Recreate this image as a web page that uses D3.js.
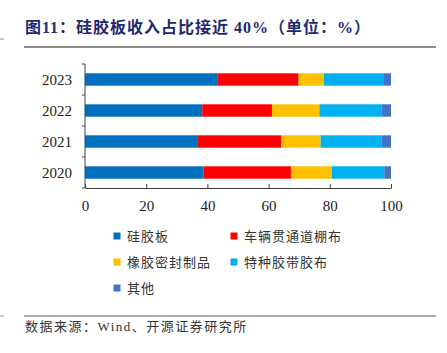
<!DOCTYPE html>
<html>
<head>
<meta charset="utf-8">
<script src="https://cdn.jsdelivr.net/npm/d3@7"></script>
<style>
  body { margin: 0; background: #fff; }
</style>
</head>
<body>
<div id="chart"></div>
<script>
let years = ["2023", "2022", "2021", "2020"];
let seriesNames = ["硅胶板", "车辆贯通道棚布", "橡胶密封制品", "特种胶带胶布", "其他"];
let seriesColors = ["#0070C0", "#FF0000", "#FFC000", "#00B0F0", "#4472C4"];
let siliconeBoard = [43.2, 38.3, 36.9, 38.7];
let vestibuleCloth = [26.6, 22.8, 27.2, 28.6];
let rubberSeals = [8.3, 15.5, 12.9, 13.4];
let specialTape = [19.6, 20.4, 20.0, 17.1];
let others = [2.3, 3.0, 3.0, 2.2];
let xTicks = [0, 20, 40, 60, 80, 100];

let tableData = years.map(function (y, i) {
    return {
        year: y,
        "硅胶板": siliconeBoard[i],
        "车辆贯通道棚布": vestibuleCloth[i],
        "橡胶密封制品": rubberSeals[i],
        "特种胶带胶布": specialTape[i],
        "其他": others[i]
    };
});

let W = 447, H = 353;
let svg = d3.select("#chart").append("svg")
    .attr("width", W).attr("height", H);

// title
svg.append("text")
    .attr("x", 25).attr("y", 33)
    .style("font-family", "'Liberation Serif', 'Noto Sans CJK SC', serif")
    .style("font-weight", "bold")
    .style("font-size", "16px")
    .style("letter-spacing", "1px")
    .attr("fill", "#1F2A6E")
    .text("图11：硅胶板收入占比接近 40%（单位：%）");
svg.append("line").attr("x1", 24).attr("x2", 436).attr("y1", 47).attr("y2", 47)
    .attr("stroke", "#8c8c8c").attr("stroke-width", 2);
svg.append("line").attr("x1", 0).attr("x2", 4).attr("y1", 39).attr("y2", 39)
    .attr("stroke", "#8c8c8c").attr("stroke-width", 1);

let plotLeft = 85, plotRight = 391, plotTop = 64, plotBottom = 188;

let x = d3.scaleLinear().domain([0, 100]).range([plotLeft, plotRight]);
let y = d3.scaleBand().domain(years).range([plotTop, plotBottom]).paddingInner(0.6).paddingOuter(0.3);

let stack = d3.stack().keys(seriesNames);
let stacked = stack(tableData);

svg.selectAll("g.layer")
    .data(stacked)
    .enter()
    .append("g")
    .attr("class", "layer")
    .attr("fill", function (d, i) { return seriesColors[i]; })
    .selectAll("rect")
    .data(function (d) { return d; })
    .enter()
    .append("rect")
    .attr("x", function (d) { return x(d[0]); })
    .attr("width", function (d) { return x(d[1]) - x(d[0]); })
    .attr("y", function (d) { return y(d.data.year); })
    .attr("height", y.bandwidth());

// x axis
let xAxis = svg.append("g")
    .attr("transform", "translate(0," + plotBottom + ")")
    .call(d3.axisBottom(x).tickValues(xTicks).tickSizeInner(-4).tickSizeOuter(0).tickPadding(12));
xAxis.select(".domain").attr("stroke", "#404040");
xAxis.selectAll(".tick line").attr("stroke", "#404040");
xAxis.selectAll("text")
    .style("font-family", "'Liberation Serif', serif")
    .style("font-size", "15px")
    .attr("fill", "#222");

// y axis
let step = y.step();
let yAxis = svg.append("g");
yAxis.append("line").attr("x1", plotLeft).attr("x2", plotLeft).attr("y1", plotTop).attr("y2", plotBottom)
    .attr("stroke", "#404040");
d3.range(years.length + 1).forEach(function (i) {
    yAxis.append("line")
        .attr("x1", plotLeft - 3).attr("x2", plotLeft)
        .attr("y1", plotTop + i * step).attr("y2", plotTop + i * step)
        .attr("stroke", "#404040");
});
yAxis.selectAll("text.ylab")
    .data(years)
    .enter()
    .append("text")
    .attr("class", "ylab")
    .attr("x", plotLeft - 13)
    .attr("y", function (d) { return y(d) + y.bandwidth() / 2; })
    .attr("dy", "0.35em")
    .attr("text-anchor", "end")
    .style("font-family", "'Liberation Serif', serif")
    .style("font-size", "15px")
    .attr("fill", "#222")
    .text(function (d) { return d; });

// legend
let legendPos = [[117, 236], [234, 236], [117, 262], [234, 262], [117, 288]];
let legend = svg.selectAll("g.legend")
    .data(seriesNames)
    .enter()
    .append("g")
    .attr("class", "legend")
    .attr("transform", function (d, i) { return "translate(" + legendPos[i][0] + "," + legendPos[i][1] + ")"; });
legend.append("rect")
    .attr("x", -3.5).attr("y", -3.5).attr("width", 7).attr("height", 7)
    .attr("fill", function (d, i) { return seriesColors[i]; });
legend.append("text")
    .attr("x", 10).attr("dy", "0.36em")
    .style("font-family", "'Noto Sans CJK SC', sans-serif")
    .style("font-size", "13px")
    .style("letter-spacing", "1px")
    .attr("fill", "#333")
    .text(function (d) { return d; });

// footer
svg.append("line").attr("x1", 24).attr("x2", 436).attr("y1", 316).attr("y2", 316)
    .attr("stroke", "#595959").attr("stroke-width", 1);
svg.append("line").attr("x1", 0).attr("x2", 4).attr("y1", 316).attr("y2", 316)
    .attr("stroke", "#8c8c8c").attr("stroke-width", 1);
svg.append("text")
    .attr("x", 25).attr("y", 331)
    .style("font-family", "'Liberation Serif', 'Noto Sans CJK SC', serif")
    .style("font-size", "13px")
    .style("letter-spacing", "1.5px")
    .attr("fill", "#333")
    .text("数据来源：Wind、开源证券研究所");
</script>
</body>
</html>
